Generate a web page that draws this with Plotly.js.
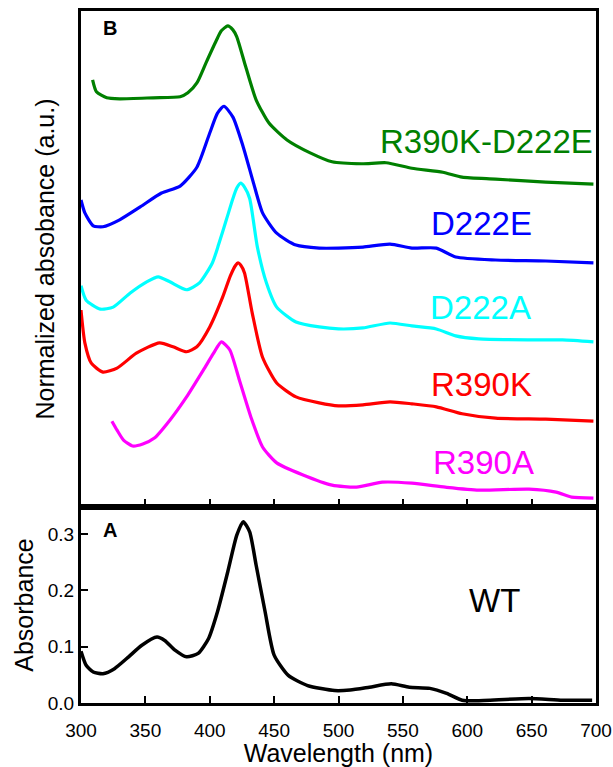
<!DOCTYPE html>
<html>
<head>
<meta charset="utf-8">
<script src="https://cdn.plot.ly/plotly-3.0.1.min.js"></script>
<style>html,body{margin:0;padding:0;background:#fff;}#chart{width:613px;height:767px;}</style>
</head>
<body>
<div id="chart"></div>
<script>
// Panel B: normalized absorbance (arbitrary offset units)
const wlR390KD222E = [309,312,320,330,356,377,383,390,397,405,409,414,418,421,428,436,446,460,478,495,518,537,557,581,596,622,661,698];
const absR390KD222E = [8.61,8.37,8.25,8.23,8.25,8.27,8.35,8.55,8.95,9.40,9.60,9.70,9.62,9.48,8.87,8.21,7.74,7.40,7.14,6.96,6.92,6.94,6.83,6.75,6.65,6.61,6.55,6.51];

const wlD222E = [300,303,309.5,317,330,346,362.5,377,390,400,406,411,418,426,434,441,452,467,485,500,519,540,557,576,591,622,661,698];
const absD222E = [6.19,5.93,5.67,5.65,5.79,6.05,6.33,6.47,6.85,7.54,7.94,8.08,7.86,7.26,6.53,5.93,5.52,5.28,5.22,5.22,5.24,5.30,5.22,5.22,5.04,4.98,4.96,4.92];

const wlD222A = [300,304,315,325,338,351,360,369,382,392,402,407,413,418,421,424,427,431,437,444,452,467,485,500,519,540,557,576,591,609,648,674,698];
const absD222A = [4.46,4.17,3.99,4.03,4.31,4.54,4.64,4.54,4.38,4.52,4.92,5.30,5.80,6.22,6.43,6.53,6.45,6.22,5.24,4.52,4.03,3.73,3.63,3.59,3.61,3.71,3.65,3.59,3.45,3.39,3.37,3.37,3.33];

const wlR390K = [300,303,308,317,328,343,361,371.5,382,390,400,410,416,420,422,424,427,433,441,452,467,485,500,519,540,557,576,596,622,661,698];
const absR390K = [3.97,3.31,2.90,2.72,2.80,3.10,3.31,3.23,3.13,3.23,3.63,4.23,4.66,4.87,4.92,4.88,4.72,3.91,3.02,2.50,2.22,2.10,2.04,2.06,2.12,2.08,2.02,1.88,1.79,1.77,1.73];

const wlR390A = [324,328,333,340,348,357,369,382,395,403,409,415.5,423,432,441,452,472,495,514,534,557,583,609,648,669,681,698];
const absR390A = [1.73,1.55,1.35,1.23,1.27,1.39,1.75,2.22,2.76,3.10,3.33,3.17,2.56,1.81,1.21,0.89,0.65,0.44,0.40,0.50,0.48,0.40,0.34,0.36,0.30,0.20,0.18];

// Panel A: WT absorbance
const wlWT = [300,304,309.5,317,326,337,347,359,365,373,382,391,399,406,414,421,426,431,436,443,450,461,476,497,509,524,541,555,571,584,596,607,648,674,697];
const absWT = [0.092,0.067,0.055,0.052,0.061,0.082,0.102,0.117,0.111,0.094,0.082,0.088,0.114,0.162,0.233,0.298,0.322,0.304,0.245,0.162,0.085,0.049,0.031,0.022,0.023,0.028,0.034,0.028,0.026,0.017,0.005,0.004,0.008,0.005,0.005];

const xTicks = [300,350,400,450,500,550,600,650,700];
const yTicksA = [0.0,0.1,0.2,0.3];
const yTickTextA = ['0.0','0.1','0.2','0.3'];

const seriesNames = ['R390K-D222E','D222E','D222A','R390K','R390A'];
const seriesColors = ['#008000','#0000ff','#00ffff','#ff0000','#ff00ff'];
const seriesX = [wlR390KD222E, wlD222E, wlD222A, wlR390K, wlR390A];
const seriesY = [absR390KD222E, absD222E, absD222A, absR390K, absR390A];
// label positions (wavelength, a.u.)
const labelX = [699, 611, 610, 611, 613];
const labelY = [7.36, 5.71, 4.03, 2.46, 0.89];
const labelAnchor = ['right','center','center','center','center'];

const FONT = 'Liberation Sans, Arial, sans-serif';

const traces = seriesNames.map((n,i)=>({
  type:'scatter', mode:'lines', name:n,
  x:seriesX[i], y:seriesY[i], xaxis:'x2', yaxis:'y2',
  line:{color:seriesColors[i], width:3.2, shape:'spline', smoothing:0.6},
  hoverinfo:'skip'
}));
traces.push({
  type:'scatter', mode:'lines', name:'WT', x:wlWT, y:absWT, xaxis:'x', yaxis:'y',
  line:{color:'#000000', width:3.5, shape:'spline', smoothing:0.6}, hoverinfo:'skip'
});

const split = (703-507)/692;

const annotations = seriesNames.map((n,i)=>({
  text:n, x:labelX[i], y:labelY[i], xref:'x2', yref:'y2', xanchor:labelAnchor[i], yanchor:'middle',
  showarrow:false, font:{family:FONT, size:33, color:seriesColors[i]}
}));
annotations.push({text:'<b>B</b>', x:0.056, y:0.975, xref:'paper', yref:'paper', xanchor:'center', yanchor:'middle', showarrow:false, font:{family:FONT, size:20, color:'#000'}});
annotations.push({text:'<b>A</b>', x:0.056, y:0.25, xref:'paper', yref:'paper', xanchor:'center', yanchor:'middle', showarrow:false, font:{family:FONT, size:20, color:'#000'}});
annotations.push({text:'WT', x:621, y:0.182, xref:'x', yref:'y', xanchor:'center', yanchor:'middle', showarrow:false, font:{family:FONT, size:33, color:'#000'}});

const layout = {
  width:613, height:767,
  margin:{l:81, r:17, t:11, b:64, pad:0},
  paper_bgcolor:'#ffffff', plot_bgcolor:'#ffffff',
  showlegend:false,
  font:{family:FONT, color:'#000'},
  xaxis:{
    domain:[0,1], range:[300,700], anchor:'y',
    tickmode:'array', tickvals:xTicks,
    ticks:'inside', ticklen:7, tickwidth:2, tickcolor:'#000',
    showline:true, linewidth:3, linecolor:'#000', mirror:true,
    showgrid:false, zeroline:false,
    tickfont:{family:FONT, size:19, color:'#000'},
    ticklabelstandoff:8,
    title:{text:'Wavelength (nm)', font:{family:FONT, size:25, color:'#000'}, standoff:12}
  },
  yaxis:{
    domain:[0, split], range:[0,0.348], anchor:'x',
    tickmode:'array', tickvals:yTicksA, ticktext:yTickTextA,
    ticks:'inside', ticklen:7, tickwidth:2, tickcolor:'#000',
    showline:true, linewidth:3, linecolor:'#000', mirror:true,
    showgrid:false, zeroline:false,
    tickfont:{family:FONT, size:19, color:'#000'},
    ticklabelstandoff:0,
    title:{text:'Absorbance', font:{family:FONT, size:25, color:'#000'}, standoff:8}
  },
  xaxis2:{
    domain:[0,1], range:[300,700], anchor:'y2', matches:'x',
    tickmode:'array', tickvals:xTicks, showticklabels:false,
    ticks:'inside', ticklen:8, tickwidth:2, tickcolor:'#000',
    showline:true, linewidth:3, linecolor:'#000', mirror:true,
    showgrid:false, zeroline:false
  },
  yaxis2:{
    domain:[split,1], range:[0,10], anchor:'x2',
    showticklabels:false, ticks:'',
    showline:true, linewidth:3, linecolor:'#000', mirror:true,
    showgrid:false, zeroline:false,
    title:{text:'Normalized absobance (a.u.)', font:{family:FONT, size:25, color:'#000'}, standoff:17}
  },
  annotations:annotations
};

Plotly.newPlot('chart', traces, layout, {staticPlot:true, displayModeBar:false});
</script>
</body>
</html>
